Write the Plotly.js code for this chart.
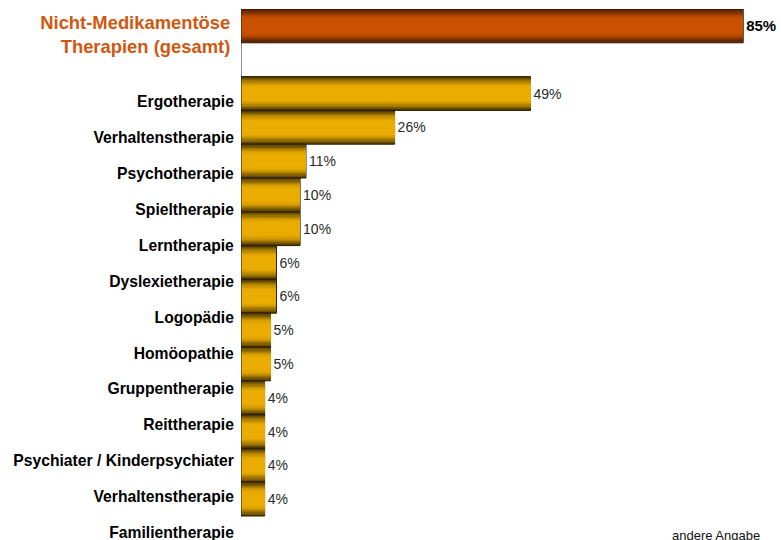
<!DOCTYPE html>
<html>
<head>
<meta charset="utf-8">
<script src="https://cdn.plot.ly/plotly-3.0.1.min.js"></script>
<style>
  html, body { margin: 0; padding: 0; background: #ffffff; }
  #chart { width: 781px; height: 540px; }
</style>
</head>
<body>
<div id="chart"></div>
<script>
// ---- data ----
const topLabel = 'Nicht-Medikamentöse<br>Therapien (gesamt)';
const topValue = [85];
const categories = ['Ergotherapie', 'Verhaltenstherapie', 'Psychotherapie', 'Spieltherapie',
  'Lerntherapie', 'Dyslexietherapie', 'Logopädie', 'Homöopathie', 'Gruppentherapie',
  'Reittherapie', 'Psychiater / Kinderpsychiater', 'Verhaltenstherapie', 'Familientherapie'];
const values = [49, 26, 11, 10, 10, 6, 6, 5, 5, 4, 4, 4, 4];
const footnote = 'andere Angabe';

// ---- styling ----
const goldShades = ['#543d00', '#6b4e00', '#836000', '#9b7200', '#b18300', '#c59200', '#d49c00', '#dfa400', '#e6a900', '#eaac00'];
const orangeShades = ['#521f00', '#642600', '#772e00', '#8a3600', '#9c3d00', '#ac4400', '#b84900', '#c04c00', '#c64f00', '#c95100'];
const layerWidths = [1.0, 0.93, 0.86, 0.79, 0.72, 0.65, 0.58, 0.51, 0.44, 0.37];

const allValues = topValue.concat(values);
const slots = [0].concat(values.map((v, i) => i + 2));
const isTop = allValues.map((v, i) => i === 0);
const textLabels = allValues.map((v, i) => isTop[i] ? '<b>' + v + '%</b>' : v + '%');

const traces = layerWidths.map((w, k) => ({
  type: 'bar',
  orientation: 'h',
  x: allValues,
  y: slots,
  width: w,
  marker: {
    color: isTop.map(t => t ? orangeShades[k] : goldShades[k]),
    line: { width: k === 0 ? 1 : 0, color: '#2a1c00' }
  },
  text: k === 0 ? textLabels : undefined,
  textposition: k === 0 ? 'outside' : 'none',
  textfont: { family: 'Liberation Sans, Arial, sans-serif', size: isTop.map(t => t ? 15 : 14), color: isTop.map(t => t ? '#000000' : '#2a2a2a') },
  constraintext: 'none',
  cliponaxis: false,
  hoverinfo: 'skip',
  showlegend: false
}));

// invisible trace carrying the category tick labels on the second axis
traces.push({
  type: 'scatter',
  mode: 'markers',
  x: values,
  y: categories.map((c, i) => i),
  yaxis: 'y2',
  marker: { opacity: 0 },
  hoverinfo: 'skip',
  showlegend: false
});

const layout = {
  width: 781,
  height: 540,
  margin: { l: 241, r: 0, t: 9, b: 0, pad: 0 },
  paper_bgcolor: '#ffffff',
  plot_bgcolor: '#ffffff',
  barmode: 'overlay',
  bargap: 0,
  font: { family: 'Liberation Sans, Arial, sans-serif', color: '#000000' },
  xaxis: {
    range: [0, 91.4],
    showticklabels: false,
    showgrid: false,
    zeroline: false,
    showline: false,
    fixedrange: true
  },
  yaxis: {
    range: [15.21, -0.5],
    tickmode: 'array',
    tickvals: [0],
    ticktext: [topLabel],
    tickfont: { family: 'Liberation Sans, Arial, sans-serif', size: 18.4, color: '#d0580f', weight: 'bold' },
    ticks: 'outside',
    ticklen: 6,
    tickcolor: 'rgba(0,0,0,0)',
    ticklabelshift: -9,
    ticklabeloverflow: 'allow',
    showgrid: false,
    zeroline: false,
    showline: false,
    fixedrange: true
  },
  yaxis2: {
    overlaying: 'y',
    side: 'left',
    anchor: 'x',
    range: [12.209, -2.582],
    tickmode: 'array',
    tickvals: categories.map((c, i) => i),
    ticktext: categories,
    tickfont: { family: 'Liberation Sans, Arial, sans-serif', size: 15.7, color: '#000000', weight: 'bold' },
    ticks: 'outside',
    ticklen: 3,
    tickcolor: 'rgba(0,0,0,0)',
    ticklabeloverflow: 'allow',
    showgrid: false,
    zeroline: false,
    showline: false,
    fixedrange: true
  },
  shapes: [
    { type: 'line', xref: 'x', yref: 'y', x0: 0, x1: 0, y0: -0.5, y1: 14.5,
      line: { color: '#222222', width: 1 } },
    { type: 'line', xref: 'x', xsizemode: 'pixel', xanchor: 0, x0: -4, x1: 0,
      yref: 'y', y0: 14.5, y1: 14.5, line: { color: '#222222', width: 1 } }
  ],
  annotations: [
    { text: footnote, xref: 'paper', yref: 'paper', x: 0.795, y: 0, xanchor: 'left', yanchor: 'bottom',
      yshift: -5, showarrow: false,
      font: { family: 'Liberation Sans, Arial, sans-serif', size: 13, color: '#111111' } }
  ]
};

Plotly.newPlot('chart', traces, layout, { displayModeBar: false, staticPlot: true });
</script>
</body>
</html>
